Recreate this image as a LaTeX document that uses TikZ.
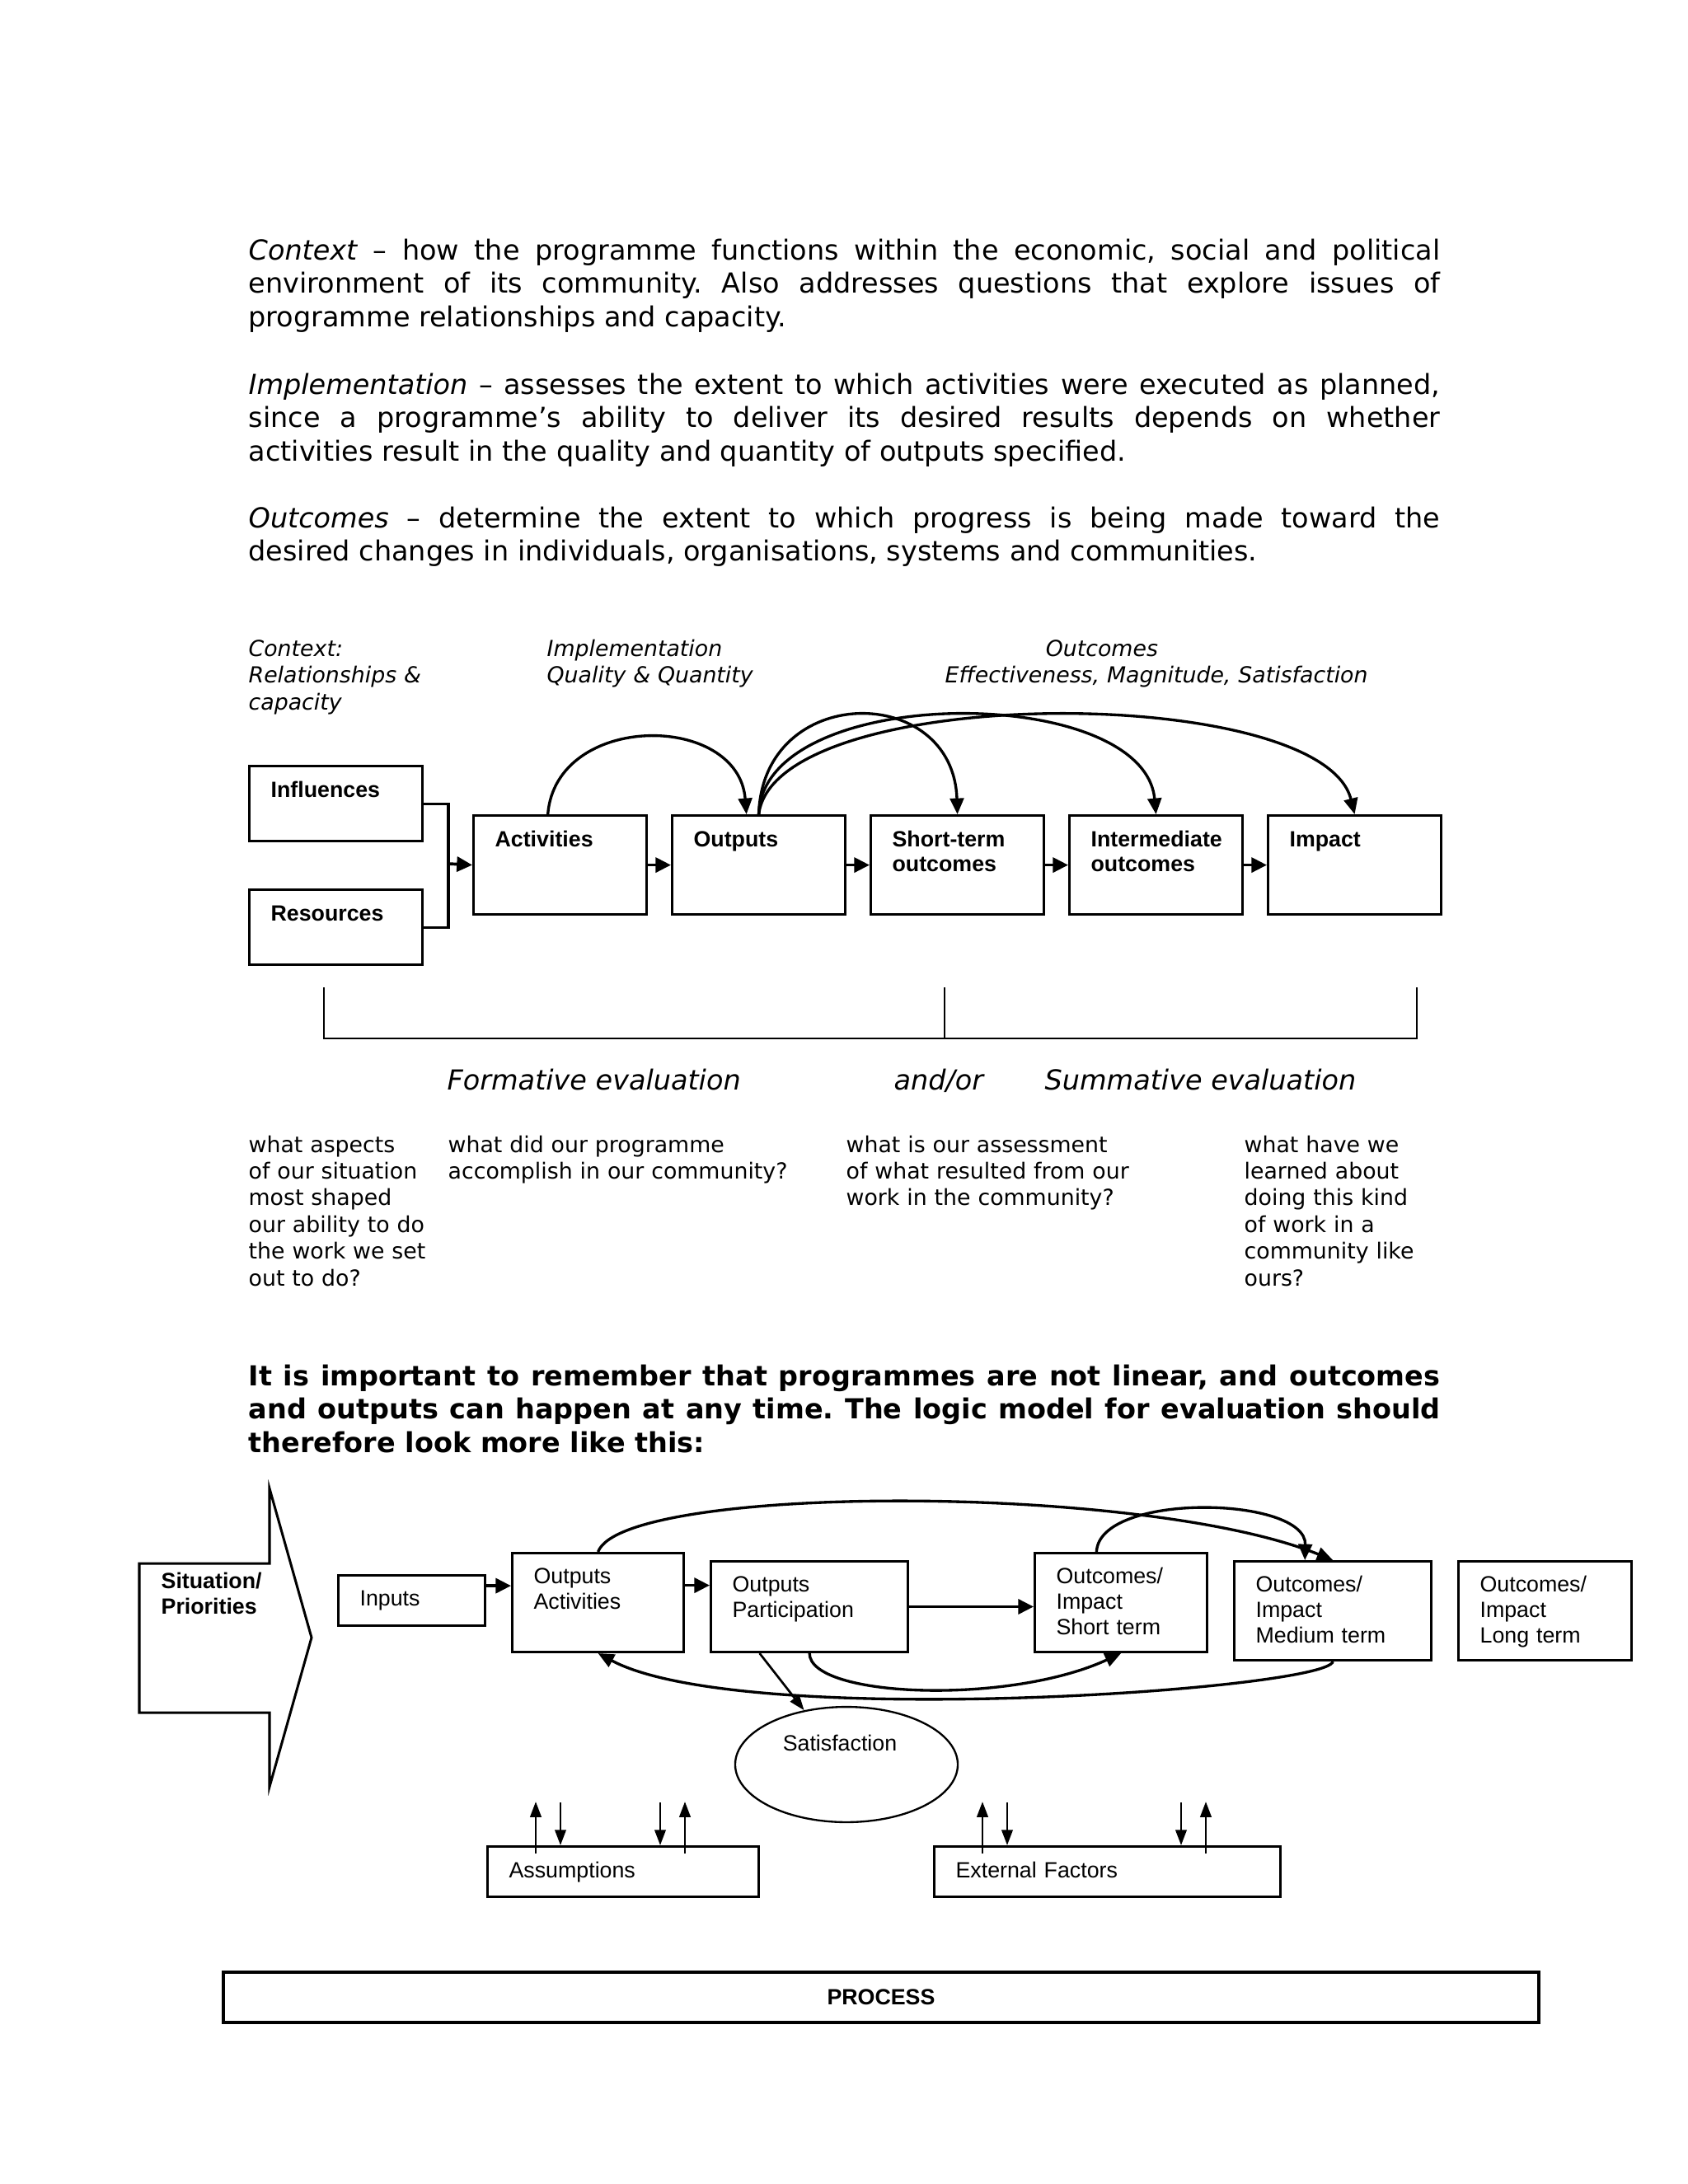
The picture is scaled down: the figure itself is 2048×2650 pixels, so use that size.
\documentclass[tikz,border=0pt]{standalone}
\usepackage{fontspec}
\usetikzlibrary{arrows.meta,calc,shapes.geometric}
\newfontfamily\bodyfont{DejaVu Sans}[ItalicFont={DejaVu Sans Oblique},BoldFont={DejaVu Sans Bold}]
\newfontfamily\boxfont{Liberation Sans}
\frenchspacing
\tikzset{
  para/.style={anchor=base west, inner sep=0pt, text width=432pt, align=justify,
    font=\bodyfont\frenchspacing\fontsize{10}{12.15}\selectfont},
  colhead/.style={anchor=base west, inner sep=0pt, text width=#1, align=left,
    font=\bodyfont\itshape\fontsize{8}{9.75}\selectfont},
  colhead/.default=120pt,
  question/.style={anchor=base west, inner sep=0pt, text width=#1, align=left,
    font=\bodyfont\fontsize{8}{9.7}\selectfont},
  question/.default=140pt,
  evallab/.style={anchor=base west, inner sep=0pt, font=\bodyfont\itshape\fontsize{10}{12}\selectfont},
  stage/.style={draw, line width=0.9pt, anchor=north west, align=left, inner xsep=7.8pt, inner ysep=0pt,
    text width=47.2pt, text height=11.4pt, text depth=24.5pt,
    font=\boxfont\bfseries\fontsize{8}{8.8}\selectfont},
  logicbox/.style={draw, line width=0.9pt, anchor=north west, align=left, inner xsep=7.8pt, inner ysep=0pt,
    text height=11.06pt, font=\boxfont\fontsize{8}{9.2}\selectfont},
  push/.style={line width=1.1pt, -{Triangle[length=5.6pt,width=5.4pt]}},
  feedback/.style={line width=1pt, -{Triangle[length=5.8pt,width=5pt]}},
  smallarrow/.style={line width=0.8pt, -{Triangle[length=5.6pt,width=4pt]}}
}
\begin{document}
\begin{tikzpicture}[x=0.29883pt,y=-0.29883pt]
\useasboundingbox (0,0) rectangle (2048,2650);
% introduction
\node[para] (ctxpar) at (301,315) {\textit{Context} – how the programme functions within the economic, social and political\linebreak environment of its community. Also addresses questions that explore issues of\linebreak programme relationships and capacity.};
\node[para] (implpar) at (301,478) {\textit{Implementation} – assesses the extent to which activities were executed as planned,\linebreak since a programme’s ability to deliver its desired results depends on whether\linebreak activities result in the quality and quantity of outputs specified.};
\node[para] (outpar) at (301,640) {\textit{Outcomes} – determine the extent to which progress is being made toward the\linebreak desired changes in individuals, organisations, systems and communities.};
%
% linear model
\node[colhead] (ctxtag) at (301,796) {Context:\\Relationships \&\\capacity};
\node[colhead] (impltag) at (663,796) {Implementation\\Quality \& Quantity};
\node[colhead=160pt] (outtag) at (1146,796) {\hspace*{36.5pt}Outcomes\\Effectiveness, Magnitude, Satisfaction};
\node[stage, text depth=15.8pt] (infl) at (301,928) {Influences};
\node[stage, text depth=15.8pt] (res) at (301,1078) {Resources};
\node[stage] (act) at (573,988) {Activities};
\node[stage] (outp) at (814,988) {Outputs};
\node[stage] (short) at (1055,988) {Short-term\\outcomes};
\node[stage] (inter) at (1296,988) {Intermediate\\outcomes};
\node[stage] (impact) at (1537,988) {Impact};
\coordinate (join) at (544,1048);
\draw[line width=0.9pt] (infl.east) -| (join) |- (res.east);
\draw[push] (join) -- (act.west);
\foreach \a/\b in {act/outp, outp/short, short/inter, inter/impact}
  \draw[push] (\a.east) -- (\b.west);
\draw[feedback] ($(act.north west)!0.43!(act.north east)$) .. controls +(10,-124) and +(-10,-124) .. ($(outp.north west)!0.43!(outp.north east)$);
\draw[feedback] (outp.north) .. controls +(5,-160) and +(-5,-160) .. (short.north);
\draw[feedback] (outp.north) .. controls +(5,-160) and +(-15,-160) .. (inter.north);
\draw[feedback] (outp.north) .. controls +(20,-160) and +(-40,-160) .. (impact.north);
%
\coordinate (fbl) at (393,1198);
\coordinate (fbm) at (1146,1198);
\coordinate (fbr) at (1719,1198);
\draw[line width=0.8pt] (fbl) -- ++(0,62) -| (fbr);
\draw[line width=0.8pt] (fbm) -- ++(0,62);
\node[evallab] (form) at (542,1322) {Formative evaluation};
\node[evallab] (andor) at (1084,1322) {and/or};
\node[evallab] (summ) at (1267,1322) {Summative evaluation};
\node[question] (q1) at (301,1398) {what aspects\\of our situation\\most shaped\\our ability to do\\the work we set\\out to do?};
\node[question] (q2) at (543,1398) {what did our programme\\accomplish in our community?};
\node[question] (q3) at (1026,1398) {what is our assessment\\of what resulted from our\\work in the community?};
\node[question] (q4) at (1509,1398) {what have we\\learned about\\doing this kind\\of work in a\\community like\\ours?};
%
\node[para, font=\bodyfont\frenchspacing\bfseries\fontsize{10}{12.15}\selectfont] (lesson) at (301,1681) {It is important to remember that programmes are not linear, and outcomes\linebreak and outputs can happen at any time. The logic model for evaluation should\linebreak therefore look more like this:};
%
% non-linear model
\draw[line width=0.9pt] (169,1897) -- (327,1897) -- (327,1806) -- (378,1987) -- (327,2168) -- (327,2078) -- (169,2078) -- cycle;
\node[anchor=base west, inner sep=0pt, text width=45pt, align=left, font=\boxfont\bfseries\fontsize{8}{9.3}\selectfont] (sit) at (195,1927) {Situation/\\Priorities};
\node[logicbox, text width=37.6pt, text depth=7.2pt] (inputs) at (409,1910) {Inputs};
\node[logicbox, text width=46.6pt, text depth=24.8pt] (oact) at (620,1883) {Outputs\\Activities};
\node[logicbox, text width=55.9pt, text depth=21.8pt] (opart) at (861,1893) {Outputs\\Participation};
\node[logicbox, text width=46.9pt, text depth=24.8pt] (oshort) at (1254,1883) {Outcomes/\\Impact\\Short term};
\node[logicbox, text width=55.9pt, text depth=24.8pt] (omed) at (1496,1893) {Outcomes/\\Impact\\Medium term};
\node[logicbox, text width=47.2pt, text depth=24.8pt] (olong) at (1768,1893) {Outcomes/\\Impact\\Long term};
\draw[push] ($(inputs.north east)!0.22!(inputs.south east)$) coordinate (ia) -- (ia -| oact.west);
\draw[push] ($(oact.north east)!0.33!(oact.south east)$) coordinate (ab) -- (ab -| opart.west);
\draw[push] (opart.east) -- (opart.east -| oshort.west);
\draw[feedback] (oact.north) .. controls +(30,-82) and +(-232,-94) .. (omed.north);
\draw[feedback] ($(oshort.north west)!0.36!(oshort.north east)$) .. controls +(3,-73) and +(2,-78) .. ($(omed.north west)!0.36!(omed.north east)$);
\draw[feedback] (opart.south) .. controls +(0,54) and +(-136,63) .. (oshort.south);
\draw[feedback] (omed.south) .. controls +(-7,34) and +(176,94) .. (oact.south);
\node[draw, ellipse, line width=0.7pt, minimum width=80.7pt, minimum height=41.8pt, inner sep=0pt,
  text height=6pt, text depth=15.6pt, font=\boxfont\fontsize{8}{9.2}\selectfont] (sat) at (1027,2141) {Satisfaction\kern4.8pt};
\draw[smallarrow] ($(opart.south west)!0.25!(opart.south east)$) -- (sat);
%
\node[logicbox, text width=82.8pt, text depth=6.9pt, text height=11.36pt] (assum) at (590,2239) {Assumptions};
\node[logicbox, text width=110pt, text depth=6.9pt, text height=11.36pt] (extf) at (1132,2239) {External Factors};
\foreach \x/\b [count=\i] in {650/assum, 831/assum, 1192/extf, 1463/extf} {
  \coordinate (up\i) at (\x,2186);
  \draw[smallarrow] (up\i |- \b.north) ++(0,10) -- (up\i);
}
\foreach \x/\b [count=\i] in {680/assum, 801/assum, 1222/extf, 1433/extf} {
  \coordinate (dn\i) at (\x,2187);
  \draw[smallarrow] (dn\i) -- (dn\i |- \b.north);
}
\node[draw, line width=1pt, minimum width=477pt, minimum height=18.2pt, inner sep=0pt,
  font=\boxfont\bfseries\fontsize{8}{9.2}\selectfont] (proc) at (1069,2423.5) {PROCESS};
\end{tikzpicture}
\end{document}
